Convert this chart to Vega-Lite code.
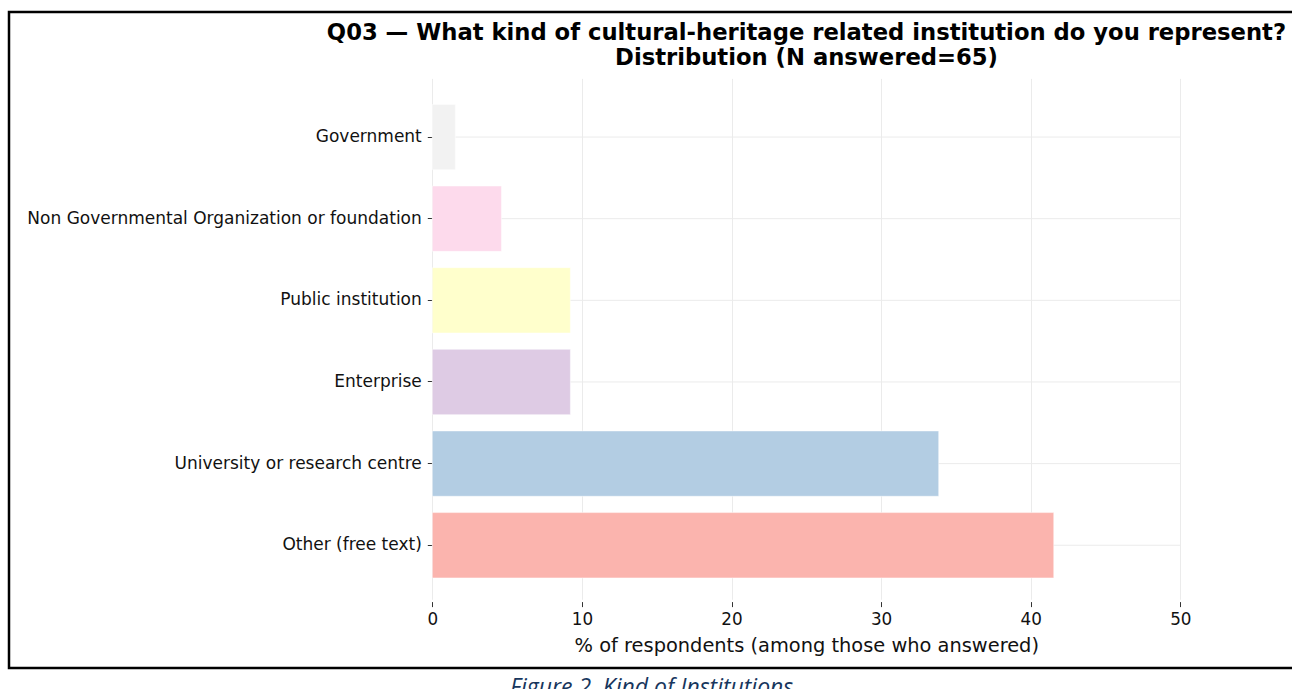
{
  "$schema": "https://vega.github.io/schema/vega-lite/v6.json",
  "autosize": {"type": "none"},
  "padding": {"left": 9, "top": 12, "right": -5, "bottom": 21},
  "width": 1288,
  "height": 656,
  "background": "white",
  "config": {
    "view": {"stroke": "#000000", "strokeWidth": 2.5},
    "font": "DejaVu Sans"
  },
  "title": {
    "text": ["Q03 — What kind of cultural-heritage related institution do you represent?", "Distribution (N answered=65)"],
    "anchor": "middle",
    "frame": "group",
    "dx": 153.5,
    "offset": -58,
    "font": "DejaVu Sans",
    "fontSize": 22.7,
    "fontWeight": "bold",
    "color": "#000000",
    "lineHeight": 25
  },
  "data": {
    "values": [
      {"category": "Government", "count": 1, "pct": 1.54},
      {"category": "Non Governmental Organization or foundation", "count": 3, "pct": 4.62},
      {"category": "Public institution", "count": 6, "pct": 9.23},
      {"category": "Enterprise", "count": 6, "pct": 9.23},
      {"category": "University or research centre", "count": 22, "pct": 33.85},
      {"category": "Other (free text)", "count": 27, "pct": 41.54}
    ]
  },
  "encoding": {
    "y": {
      "field": "category",
      "type": "nominal",
      "sort": null,
      "scale": {
        "domain": ["Government", "Non Governmental Organization or foundation", "Public institution", "Enterprise", "University or research centre", "Other (free text)"],
        "range": [68.7, 589.6],
        "paddingInner": 0.2,
        "paddingOuter": 0.29
      },
      "axis": {
        "title": null,
        "orient": "left",
        "offset": -423.3,
        "domain": false,
        "grid": false,
        "ticks": true,
        "tickSize": 5,
        "tickWidth": 1,
        "tickColor": "#333333",
        "labelFont": "DejaVu Sans",
        "labelFontSize": 17,
        "labelColor": "#111111",
        "labelPadding": 6,
        "labelLimit": 0
      }
    }
  },
  "layer": [
    {
      "mark": {"type": "rule", "color": "#ebebeb", "strokeWidth": 1},
      "encoding": {
        "x": {
          "datum": 0,
          "type": "quantitative",
          "axis": {
            "orient": "bottom",
            "offset": 0,
            "title": "Figure 2. Kind of Institutions.",
            "labels": false,
            "ticks": false,
            "domain": false,
            "grid": false,
            "titleFont": "Open Sans",
            "titleFontStyle": "italic",
            "titleFontWeight": "normal",
            "titleFontSize": 23,
            "titleColor": "#17365d",
            "titleX": 645,
            "titleY": 8.5,
            "titleAlign": "center",
            "titleBaseline": "top"
          }
        },
        "x2": {"datum": 50}
      }
    },
    {
      "mark": {"type": "bar", "stroke": "#ffffff", "strokeWidth": 0.8, "strokeOpacity": 0.6},
      "encoding": {
        "x": {
          "field": "pct",
          "type": "quantitative",
          "scale": {"domain": [0, 50], "range": [423.3, 1171.3], "nice": false, "zero": true},
          "axis": {
            "title": "% of respondents (among those who answered)",
            "orient": "bottom",
            "offset": -66.4,
            "values": [0, 10, 20, 30, 40, 50],
            "domain": false,
            "grid": true,
            "gridColor": "#ebebeb",
            "gridWidth": 1,
            "ticks": true,
            "tickSize": 5,
            "tickWidth": 1,
            "tickColor": "#333333",
            "labelFont": "DejaVu Sans",
            "labelFontSize": 16.8,
            "labelColor": "#111111",
            "labelPadding": 5,
            "labelFlush": false,
            "titleFont": "DejaVu Sans",
            "titleFontSize": 19.4,
            "titleFontWeight": "normal",
            "titleColor": "#111111",
            "titlePadding": 8
          }
        },
        "color": {
          "field": "category",
          "type": "nominal",
          "scale": {
            "domain": ["Other (free text)", "University or research centre", "Enterprise", "Public institution", "Non Governmental Organization or foundation", "Government"],
            "range": ["#fbb4ae", "#b3cde3", "#decbe4", "#ffffcc", "#fddaec", "#f2f2f2"]
          },
          "legend": null
        }
      }
    }
  ],
  "resolve": {"axis": {"x": "independent"}}
}
